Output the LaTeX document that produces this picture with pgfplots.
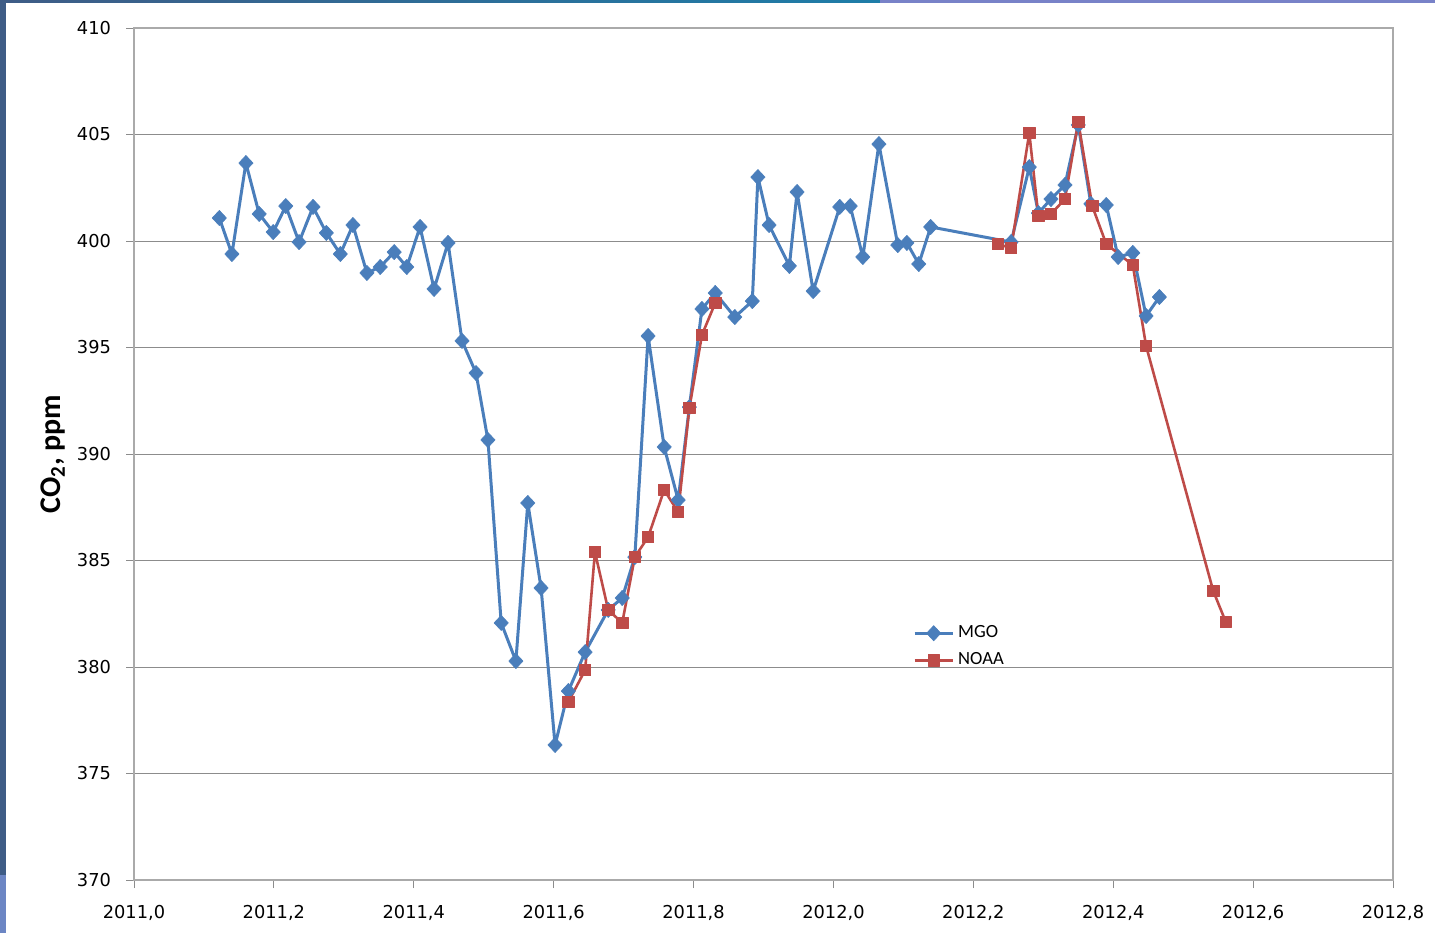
\documentclass[border=0pt]{standalone}
\usepackage{pgfplots}
\pgfplotsset{compat=1.18}
\usepackage{fontspec}
\setmainfont{DejaVu Sans}
\newfontfamily\calfont{Carlito}
\definecolor{mgo}{RGB}{74,126,187}
\definecolor{noaa}{RGB}{190,75,72}
\definecolor{gridgray}{RGB}{140,140,140}
\definecolor{axisgray}{RGB}{170,170,170}
\definecolor{slidedark}{RGB}{62,92,134}
\definecolor{slidelight}{RGB}{108,134,196}
\definecolor{slideteal}{RGB}{30,125,168}
\definecolor{slidelav}{RGB}{120,130,200}
\begin{document}
\begin{tikzpicture}[x=1pt,y=1pt]
\useasboundingbox (-67,-26.5) rectangle (650.5,440);
\fill[slidedark] (-67,2.5) rectangle (-64,440);
\fill[slidelight] (-67,-26.5) rectangle (-64,2.5);
\shade[left color=slidedark, right color=slideteal] (-67,438.5) rectangle (373,440);
\fill[slidelav] (373,438.5) rectangle (650.5,440);
\begin{axis}[
  at={(0,0)}, anchor=south west,
  scale only axis, width=629.5pt, height=426pt,
  xmin=2011, xmax=2012.8, ymin=370, ymax=410,
  xtick={2011,2011.2,2011.4,2011.6,2011.8,2012,2012.2,2012.4,2012.6,2012.8},
  ytick={370,375,380,385,390,395,400,405,410},
  ymajorgrids,
  grid style={draw=gridgray, line width=0.5pt},
  axis line style={draw=axisgray, line width=0.6pt},
  tick style={draw=gridgray, line width=0.5pt},
  tick align=outside, major tick length=4pt, tick pos=left,
  tick label style={font=\fontsize{8.9}{10}\selectfont, /pgf/number format/assume math mode=true},
  xticklabel style={/pgf/number format/.cd, fixed, fixed zerofill, precision=1, use comma, 1000 sep={}, /tikz/.cd, yshift=-5pt},
  yticklabel style={/pgf/number format/.cd, fixed, 1000 sep={}, /tikz/.cd, xshift=-4pt},
  ylabel={CO\textsubscript{2}, ppm},
  every axis y label/.style={at={(axis description cs:0,0.5)}, rotate=90, anchor=center, yshift=40.5pt, font=\calfont\bfseries\fontsize{15}{18}\selectfont},
  legend style={at={(axis description cs:0.617,0.306)}, anchor=north west, draw=none, fill=none, font=\calfont\fontsize{9.3}{11}\selectfont, row sep=2pt, inner sep=1pt},
  legend cell align=left,
  legend image code/.code={\draw[mark repeat=2, mark phase=2, #1] plot coordinates {(0pt,0pt) (9.5pt,0pt) (19pt,0pt)};},
  unbounded coords=jump,
]
\addplot[mgo, line width=1.5pt, line join=round, mark=diamond*, mark size=3.8pt, mark options={fill=mgo, draw=mgo, line width=0.3pt, xscale=1.25}] coordinates {
(2011.122,401.08) (2011.140,399.39) (2011.160,403.66) (2011.179,401.27) (2011.199,400.42)
(2011.217,401.64) (2011.236,399.95) (2011.256,401.60) (2011.275,400.38) (2011.295,399.39)
(2011.313,400.75) (2011.333,398.50) (2011.352,398.78) (2011.372,399.48) (2011.390,398.78)
(2011.409,400.66) (2011.429,397.75) (2011.449,399.91) (2011.469,395.31) (2011.489,393.80)
(2011.506,390.66) (2011.525,382.07) (2011.546,380.28) (2011.563,387.70) (2011.582,383.71)
(2011.602,376.34) (2011.621,378.87) (2011.645,380.70) (2011.678,382.68) (2011.698,383.24)
(2011.716,385.16) (2011.735,395.54) (2011.758,390.33) (2011.778,387.84) (2011.794,392.20)
(2011.812,396.81) (2011.831,397.56) (2011.859,396.43) (2011.884,397.18) (2011.892,403.00)
(2011.908,400.75) (2011.937,398.83) (2011.948,402.30) (2011.971,397.65) (2012.009,401.60)
(2012.024,401.64) (2012.042,399.25) (2012.065,404.55) (2012.092,399.81) (2012.105,399.91)
(2012.122,398.92) (2012.139,400.66) (2012.254,399.95) (2012.280,403.47) (2012.293,401.31)
(2012.311,401.97) (2012.331,402.63) (2012.350,405.45) (2012.368,401.74) (2012.390,401.69)
(2012.407,399.25) (2012.428,399.44) (2012.447,396.48) (2012.466,397.37)
};
\addlegendentry{MGO}
\addplot[noaa, line width=1.3pt, line join=round, mark=square*, mark size=2.8pt, mark options={fill=noaa, draw=noaa, line width=0.3pt}] coordinates {
(2011.621,378.36) (2011.645,379.86) (2011.659,385.40) (2011.678,382.68) (2011.698,382.07)
(2011.716,385.16) (2011.735,386.10) (2011.758,388.31) (2011.778,387.28) (2011.794,392.16)
(2011.812,395.59) (2011.831,397.09) (2012.0,nan) (2012.235,399.86) (2012.254,399.67) (2012.280,405.07)
(2012.293,401.17) (2012.311,401.27) (2012.331,401.97) (2012.350,405.59) (2012.370,401.64)
(2012.390,399.86) (2012.428,398.87) (2012.447,395.07) (2012.543,383.57) (2012.561,382.11)
};
\addlegendentry{NOAA}
\end{axis}
\end{tikzpicture}
\end{document}
